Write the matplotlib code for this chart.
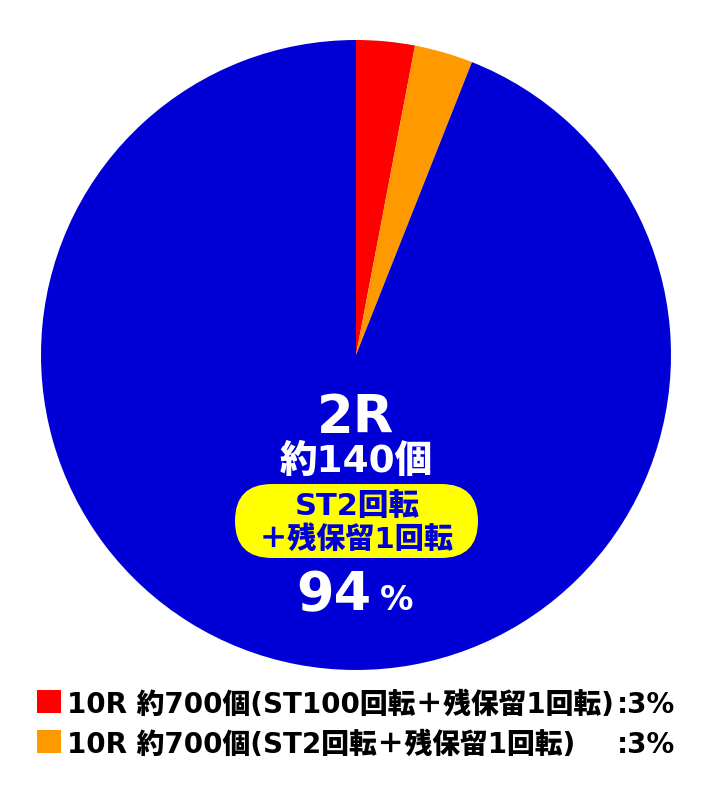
import matplotlib.pyplot as plt
from matplotlib.patches import FancyBboxPatch, Rectangle

plt.rcParams['font.family'] = ['DejaVu Sans', 'Noto Sans CJK JP']

labels = ['10R 約700個(ST100回転＋残保留1回転)', '10R 約700個(ST2回転＋残保留1回転)', '2R 約140個']
shares = [3, 3, 94]
colors = ['#ff0000', '#ff9900', '#0000d6']
legend_pct = [':3%', ':3%']

fig = plt.figure(figsize=(7.12, 7.96), dpi=100)
ax = fig.add_axes([0, 0, 1, 1])

# pie (y axis is flipped, so go counterclockwise to look clockwise)
ax.pie(shares, colors=colors, startangle=-90, counterclock=True,
       center=(356, 355), radius=315, frame=True)
ax.set_xlim(0, 712)
ax.set_ylim(796, 0)
ax.axis('off')

w = 'heavy'
# centre label
ax.text(356, 433, '2R', color='white', fontsize=38, fontweight=w, ha='center', va='baseline')
ax.text(356, 472, '約140個', color='white', fontsize=27, fontweight=w, ha='center', va='baseline')
box = FancyBboxPatch((235, 484), 243, 74, boxstyle='round,pad=0,rounding_size=37',
                     fc='#ffff00', ec='none')
ax.add_patch(box)
ax.text(357, 507, 'ST2回転', color='#0000d6', fontsize=22, fontweight=w, ha='center', va='center')
ax.text(356, 539, '＋残保留1回転', color='#0000d6', fontsize=21, fontweight=w, ha='center', va='center')
ax.text(334, 610, '94', color='white', fontsize=39, fontweight=w, ha='center', va='baseline')
ax.text(397, 610, '%', color='white', fontsize=24, fontweight=w, ha='center', va='baseline')

# legend
for i, (t, c) in enumerate(zip(labels[:2], colors[:2])):
    y = 713 + i * 40
    ax.add_patch(Rectangle((37, y - 23), 24, 23, fc=c, ec='none'))
    ax.text(67, y, t, color='black', fontsize=20, fontweight=w, ha='left', va='baseline')
    ax.text(675, y, legend_pct[i], color='black', fontsize=20, fontweight=w, ha='right', va='baseline')

fig.savefig('out.png', dpi=100, facecolor='white')
